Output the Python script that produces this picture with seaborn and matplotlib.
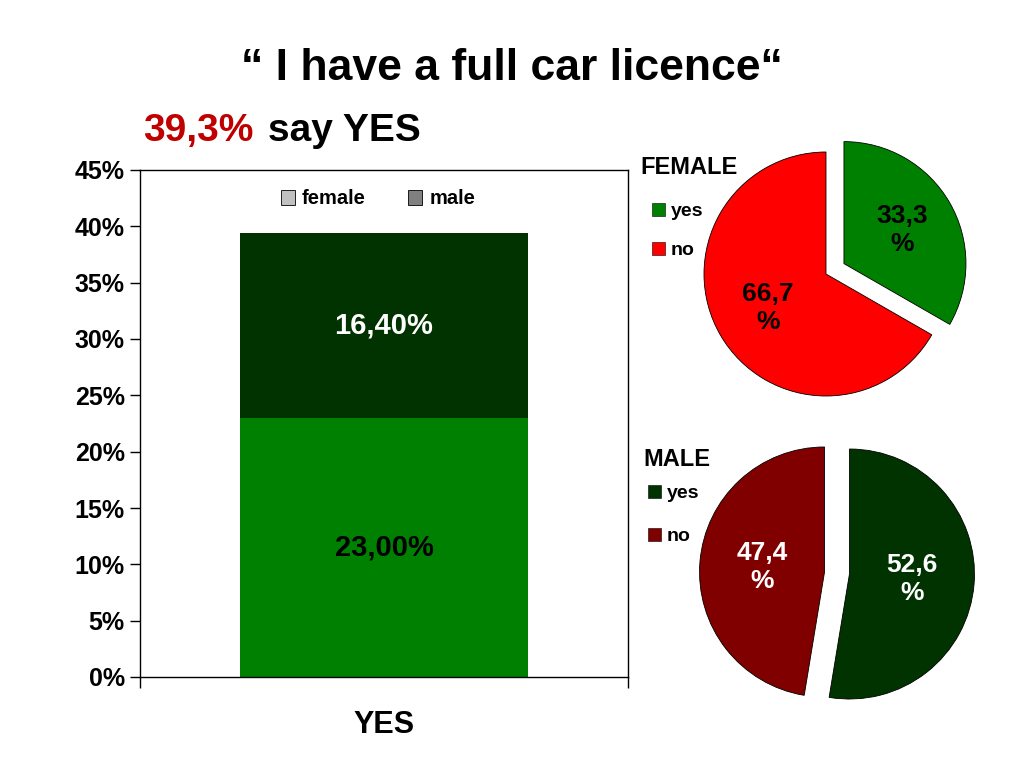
import matplotlib
matplotlib.use('Agg')
import matplotlib.pyplot as plt
import seaborn as sns
from matplotlib.patches import Patch

# --- data ---
categories = ['YES']
female_share = [23.0]
male_share = [16.4]
bar_labels_female = ['23,00%']
bar_labels_male = ['16,40%']
y_ticks = [0, 5, 10, 15, 20, 25, 30, 35, 40, 45]

pie_labels = ['yes', 'no']
female_pie = [33.3, 66.7]
male_pie = [52.6, 47.4]

sns.set_style('white')
plt.rcParams['font.family'] = ['Liberation Sans', 'DejaVu Sans']
plt.rcParams['font.weight'] = 'bold'
plt.rcParams['text.color'] = 'black'
plt.rcParams['axes.labelcolor'] = 'black'
plt.rcParams['xtick.color'] = 'black'
plt.rcParams['ytick.color'] = 'black'

fig = plt.figure(figsize=(10.24, 7.68), dpi=100)
W, H = 1024, 768

# --- stacked bar ---
ax = fig.add_axes([140 / W, 1 - 677 / H, (628 - 140) / W, (677 - 170) / H])
totals = [f + m for f, m in zip(female_share, male_share)]
sns.barplot(x=categories, y=totals, color='#003300', width=0.59, ax=ax, saturation=1,
            linewidth=0)
sns.barplot(x=categories, y=female_share, color='#008000', width=0.59, ax=ax, saturation=1,
            linewidth=0)

# segment labels
for i in range(len(categories)):
    ax.text(i, female_share[i] + male_share[i] / 2, bar_labels_male[i], ha='center',
            va='center', color='white', fontsize=21, fontweight='bold')
    ax.text(i, female_share[i] / 2, bar_labels_female[i], ha='center',
            va='center', color='black', fontsize=21, fontweight='bold')

ax.set_ylim(0, 45)
ax.set_xlim(-0.5, 0.5)
ax.set_yticks(y_ticks)
ax.set_yticklabels([f'{v}%' for v in y_ticks], fontsize=18, fontweight='bold')
ax.tick_params(axis='y', direction='out', length=7, width=1, color='black', left=True, pad=4)
ax.set_xticks([0])
ax.set_xticklabels(categories, fontsize=22, fontweight='bold')
ax.tick_params(axis='x', which='major', length=0, pad=24)
ax.set_xticks([-0.5, 0.5], minor=True)
ax.tick_params(axis='x', which='minor', direction='out', length=8, width=1,
               color='black', bottom=True)
ax.set_xlabel('')
ax.set_ylabel('')
for s in ax.spines.values():
    s.set_visible(True)
    s.set_color('black')
    s.set_linewidth(1)

leg_handles = [Patch(facecolor='#C0C0C0', edgecolor='black', linewidth=0.6),
               Patch(facecolor='#808080', edgecolor='black', linewidth=0.6)]
fig.legend(leg_handles, ['female', 'male'], loc='center',
           bbox_to_anchor=(378 / W, 1 - 199 / H), ncol=2, frameon=False,
           prop={'size': 14.5, 'weight': 'bold'}, handlelength=0.7, handleheight=0.7,
           handletextpad=0.35, columnspacing=2.1)

# --- titles ---
fig.text(0.5, 1 - 68 / H, '\u201c I have a full car licence\u201c', ha='center', va='center',
         fontsize=32, fontweight='bold')
fig.text(143 / W, 1 - 131 / H, '39,3%', ha='left', va='center', fontsize=28,
         fontweight='bold', color='#C00000')
fig.text(268 / W, 1 - 131 / H, 'say YES', ha='left', va='center', fontsize=28,
         fontweight='bold', color='black')


def pct_fmt(p):
    return f'{p:.1f}'.replace('.', ',') + '\n%'


def draw_pie(cx, cy, r, values, colors, explode, txt_color, title, title_xy, leg_xy,
             pctd, spacing):
    lim = 1.3
    size = 2 * r * lim
    pax = fig.add_axes([(cx - size / 2) / W, 1 - (cy + size / 2) / H, size / W, size / H])
    pax.pie(values, colors=colors, startangle=90, counterclock=False,
            explode=explode, autopct=pct_fmt, pctdistance=pctd,
            wedgeprops={'edgecolor': 'black', 'linewidth': 0.6},
            textprops={'fontsize': 19, 'fontweight': 'bold', 'color': txt_color,
                       'linespacing': 1.2})
    pax.set_xlim(-lim, lim)
    pax.set_ylim(-lim, lim)
    pax.set_aspect('auto')
    pax.axis('off')
    fig.text(title_xy[0] / W, 1 - title_xy[1] / H, title, ha='left', va='center',
             fontsize=17, fontweight='bold')
    handles = [Patch(facecolor=c, edgecolor='black', linewidth=0.4) for c in colors]
    fig.legend(handles, pie_labels, loc='upper left',
               bbox_to_anchor=(leg_xy[0] / W, 1 - leg_xy[1] / H), frameon=False,
               prop={'size': 14, 'weight': 'bold'}, handlelength=0.65,
               handleheight=0.65, handletextpad=0.3, labelspacing=spacing,
               borderpad=0, borderaxespad=0)


draw_pie(826, 274, 122, female_pie, ['#008000', '#FF0000'], [0.17, 0],
         'black', 'FEMALE', (640, 168), (652, 203), 0.55, 1.1)
draw_pie(837, 573, 125, male_pie, ['#003300', '#800000'], [0.1, 0.1],
         'white', 'MALE', (643, 460), (648, 485), 0.5, 1.3)

plt.savefig('out.png', dpi=100)
